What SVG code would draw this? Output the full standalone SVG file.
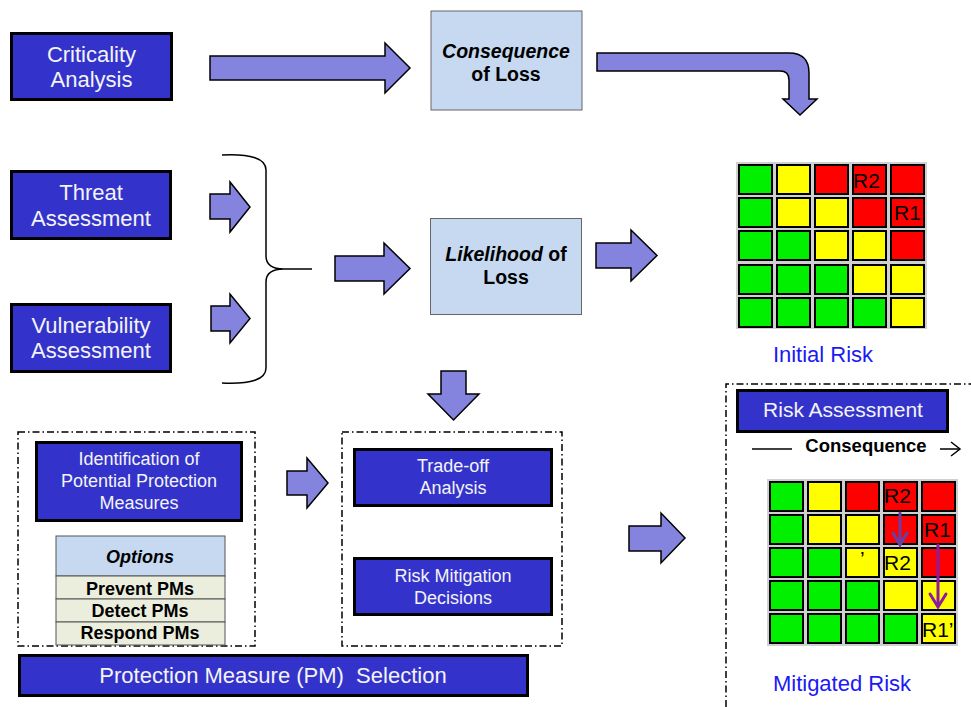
<svg xmlns="http://www.w3.org/2000/svg" width="971" height="707" viewBox="0 0 971 707">
<style>
  .bx{fill:#3333CC;stroke:#000;stroke-width:3}
  .lb{fill:#C6D9F1;stroke:#666;stroke-width:1}
  .wt{fill:#F4F4F4;font-family:"Liberation Sans",Arial,sans-serif;text-anchor:middle}
  .bt{fill:#000;font-family:"Liberation Sans",Arial,sans-serif;font-weight:bold;text-anchor:middle}
  .ar{fill:#8484DE;stroke:#000;stroke-width:1.5;stroke-linejoin:miter}
  .dd{fill:none;stroke:#000;stroke-width:1.5;stroke-dasharray:7 3 1.5 3}
  .g{fill:#00F000;stroke:#000;stroke-width:2}
  .y{fill:#FFFF00;stroke:#000;stroke-width:2}
  .r{fill:#FF0000;stroke:#000;stroke-width:2}
  .ct{fill:#000;font-family:"Liberation Sans",Arial,sans-serif;font-size:21px}
  .blue{fill:#1A1AF5;font-family:"Liberation Sans",Arial,sans-serif;font-size:22px}
  .tb{fill:#EBEEDD;stroke:#555;stroke-width:1}
</style>

<g id="connectors">
  <polygon class="ar" points="210,56 385,56 385,43 410,68 385,93 385,80 210,80"/>
  <path class="ar" d="M597,53 L789,53 Q809,53 809,73 L809,99 L817,99 L800,115 L783,99 L789,99 L789,80 Q789,71 780,71 L597,71 Z"/>
  <polygon class="ar" points="210,194 230,194 230,182 250,207 230,232 230,219 210,219"/>
  <polygon class="ar" points="211,306 230,306 230,294 250,318.5 230,343 230,331 211,331"/>
  <path d="M222,155 Q266,153 266,170 L266,256 Q266,269 284,269 L312,269 M284,269 Q266,269 266,282 L266,368 Q266,385 222,383" fill="none" stroke="#000" stroke-width="1.5"/>
  <polygon class="ar" points="335,256 384,256 384,243 410,268.5 384,294 384,281 335,281"/>
  <polygon class="ar" points="596,243 631,243 631,230 657,255.5 631,281 631,268 596,268"/>
  <polygon class="ar" points="441,371 466,371 466,394 479,394 453.5,420 428,394 441,394"/>
  <polygon class="ar" points="287,471 307,471 307,458 328,483 307,508 307,495 287,495"/>
  <polygon class="ar" points="629,526 661,526 661,513 685,538 661,563 661,551 629,551"/>
</g>

<g id="criticality">
  <rect class="bx" x="11.5" y="33.5" width="160" height="66"/>
  <text class="wt" x="91.5" y="62" font-size="22">Criticality</text>
  <text class="wt" x="91.5" y="87" font-size="22">Analysis</text>
</g>

<g id="consequence">
  <rect class="lb" x="431" y="11" width="151" height="99"/>
  <text class="bt" x="506" y="58" font-size="19.5" font-style="italic">Consequence</text>
  <text class="bt" x="506" y="81" font-size="19.5">of Loss</text>
</g>

<g id="threat">
  <rect class="bx" x="11.5" y="171.5" width="159" height="67"/>
  <text class="wt" x="91" y="200" font-size="22">Threat</text>
  <text class="wt" x="91" y="226" font-size="22">Assessment</text>
</g>

<g id="vulnerability">
  <rect class="bx" x="11.5" y="304.5" width="159" height="67"/>
  <text class="wt" x="91" y="333" font-size="22">Vulnerability</text>
  <text class="wt" x="91" y="358" font-size="22">Assessment</text>
</g>

<g id="likelihood">
  <rect class="lb" x="430.5" y="218.5" width="151" height="96"/>
  <text class="bt" x="506" y="261" font-size="19.5"><tspan font-style="italic">Likelihood</tspan> of</text>
  <text class="bt" x="506" y="284" font-size="19.5">Loss</text>
</g>

<g id="initial-risk">
  <rect x="736" y="162" width="191" height="167" fill="#D0D0D0"/>
  <rect class="g" x="739" y="165" width="33" height="29"/>
  <rect class="y" x="777" y="165" width="33" height="29"/>
  <rect class="r" x="815" y="165" width="33" height="29"/>
  <rect class="r" x="853" y="165" width="33" height="29"/>
  <rect class="r" x="891" y="165" width="33" height="29"/>
  <rect class="g" x="739" y="198" width="33" height="29"/>
  <rect class="y" x="777" y="198" width="33" height="29"/>
  <rect class="y" x="815" y="198" width="33" height="29"/>
  <rect class="r" x="853" y="198" width="33" height="29"/>
  <rect class="r" x="891" y="198" width="33" height="29"/>
  <rect class="g" x="739" y="231" width="33" height="29"/>
  <rect class="g" x="777" y="231" width="33" height="29"/>
  <rect class="y" x="815" y="231" width="33" height="29"/>
  <rect class="y" x="853" y="231" width="33" height="29"/>
  <rect class="r" x="891" y="231" width="33" height="29"/>
  <rect class="g" x="739" y="265" width="33" height="29"/>
  <rect class="g" x="777" y="265" width="33" height="29"/>
  <rect class="g" x="815" y="265" width="33" height="29"/>
  <rect class="y" x="853" y="265" width="33" height="29"/>
  <rect class="y" x="891" y="265" width="33" height="29"/>
  <rect class="g" x="739" y="298" width="33" height="29"/>
  <rect class="g" x="777" y="298" width="33" height="29"/>
  <rect class="g" x="815" y="298" width="33" height="29"/>
  <rect class="g" x="853" y="298" width="33" height="29"/>
  <rect class="y" x="891" y="298" width="33" height="29"/>
  <text class="ct" x="853" y="188">R2</text>
  <text class="ct" x="894" y="220">R1</text>
  <text class="blue" x="823" y="362" text-anchor="middle">Initial Risk</text>
</g>

<g id="mitigated-risk">
  <path class="dd" d="M726,707 L726,384 L971,384"/>
  <g id="risk-assessment">
    <rect class="bx" x="737.5" y="390.5" width="210" height="41"/>
    <text class="wt" x="843" y="417" font-size="21">Risk Assessment</text>
  </g>
  <line x1="752" y1="449" x2="792" y2="449" stroke="#000" stroke-width="1.5"/>
  <text class="bt" x="866" y="452" font-size="18.5">Consequence</text>
  <line x1="940" y1="449" x2="960" y2="449" stroke="#000" stroke-width="1.5"/>
  <polyline points="951,442 960,449 951,456" fill="none" stroke="#000" stroke-width="1.5"/>
  <rect x="767" y="479" width="191" height="167" fill="#D0D0D0"/>
  <rect class="g" x="770" y="482" width="33" height="29"/>
  <rect class="y" x="808" y="482" width="33" height="29"/>
  <rect class="r" x="846" y="482" width="33" height="29"/>
  <rect class="r" x="884" y="482" width="33" height="29"/>
  <rect class="r" x="922" y="482" width="33" height="29"/>
  <rect class="g" x="770" y="515" width="33" height="29"/>
  <rect class="y" x="808" y="515" width="33" height="29"/>
  <rect class="y" x="846" y="515" width="33" height="29"/>
  <rect class="r" x="884" y="515" width="33" height="29"/>
  <rect class="r" x="922" y="515" width="33" height="29"/>
  <rect class="g" x="770" y="548" width="33" height="29"/>
  <rect class="g" x="808" y="548" width="33" height="29"/>
  <rect class="y" x="846" y="548" width="33" height="29"/>
  <rect class="y" x="884" y="548" width="33" height="29"/>
  <rect class="r" x="922" y="548" width="33" height="29"/>
  <rect class="g" x="770" y="581" width="33" height="29"/>
  <rect class="g" x="808" y="581" width="33" height="29"/>
  <rect class="g" x="846" y="581" width="33" height="29"/>
  <rect class="y" x="884" y="581" width="33" height="29"/>
  <rect class="y" x="922" y="581" width="33" height="29"/>
  <rect class="g" x="770" y="614" width="33" height="29"/>
  <rect class="g" x="808" y="614" width="33" height="29"/>
  <rect class="g" x="846" y="614" width="33" height="29"/>
  <rect class="g" x="884" y="614" width="33" height="29"/>
  <rect class="y" x="922" y="614" width="33" height="29"/>
  <text class="ct" x="884" y="503">R2</text>
  <text class="ct" x="924" y="537">R1</text>
  <text class="ct" x="860" y="566">’</text>
  <text class="ct" x="884" y="570">R2</text>
  <text class="ct" x="922" y="637">R1’</text>
  <g fill="none" stroke-width="3" stroke-linecap="round">
    <line x1="900" y1="513" x2="900" y2="544" stroke="#6A3FA3"/>
    <polyline points="893,533 900,545 907,533" stroke="#6A3FA3"/>
    <line x1="938" y1="545" x2="938" y2="606" stroke="#8E1B9E"/>
    <polyline points="930,594 938,607 946,594" stroke="#8E1B9E"/>
  </g>
  <text class="blue" x="842" y="691" text-anchor="middle">Mitigated Risk</text>
</g>

<g id="pm-identification-group">
  <rect class="dd" x="18" y="432" width="237" height="214"/>
  <g id="identification">
    <rect class="bx" x="36.5" y="442.5" width="205" height="78"/>
    <text class="wt" x="139" y="465" font-size="18">Identification of</text>
    <text class="wt" x="139" y="487" font-size="18">Potential Protection</text>
    <text class="wt" x="139" y="509" font-size="18">Measures</text>
  </g>
  <g id="options">
    <rect x="56" y="536" width="169" height="40" fill="#C6D9F1" stroke="#555" stroke-width="1"/>
    <rect class="tb" x="56" y="576" width="169" height="23"/>
    <rect class="tb" x="56" y="599" width="169" height="23"/>
    <rect class="tb" x="56" y="622" width="169" height="23"/>
    <text class="bt" x="140" y="563" font-size="18" font-style="italic">Options</text>
    <text class="bt" x="140" y="595" font-size="18">Prevent PMs</text>
    <text class="bt" x="140" y="617" font-size="18">Detect PMs</text>
    <text class="bt" x="140" y="639" font-size="18">Respond PMs</text>
  </g>
</g>

<g id="decision-group">
  <rect class="dd" x="342" y="432" width="220" height="214"/>
  <g id="tradeoff">
    <rect class="bx" x="354.5" y="449.5" width="197" height="56"/>
    <text class="wt" x="453" y="472" font-size="18">Trade-off</text>
    <text class="wt" x="453" y="494" font-size="18">Analysis</text>
  </g>
  <g id="mitigation-decisions">
    <rect class="bx" x="354.5" y="558.5" width="197" height="56"/>
    <text class="wt" x="453" y="582" font-size="18">Risk Mitigation</text>
    <text class="wt" x="453" y="604" font-size="18">Decisions</text>
  </g>
</g>

<g id="pm-selection">
  <rect class="bx" x="19.5" y="655.5" width="508" height="40"/>
  <text class="wt" x="273" y="683" font-size="22" xml:space="preserve">Protection Measure (PM)  Selection</text>
</g>
</svg>
